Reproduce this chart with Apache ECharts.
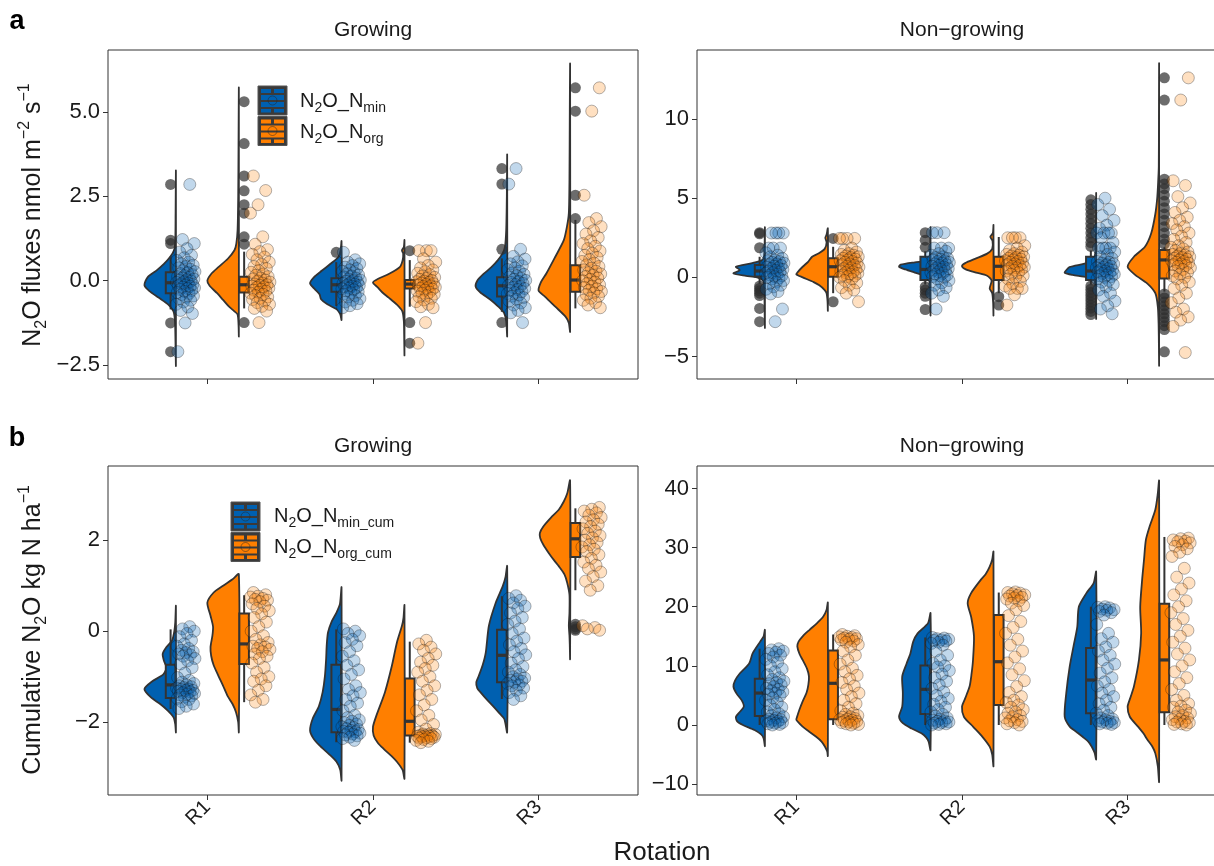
<!DOCTYPE html>
<html><head><meta charset="utf-8">
<script src="https://cdn.jsdelivr.net/npm/echarts@6/dist/echarts.min.js"></script>
<style>html,body{margin:0;padding:0;background:#fff}#c{width:1214px;height:866px}</style>
</head><body><div id="c"></div>
<script>
// ---------------- DATA ----------------
const categories = ['R1', 'R2', 'R3'];

// tick values per panel
const aGrowTicks = [-2.5, 0, 2.5, 5];
const aNonTicks = [-5, 0, 5, 10];
const bGrowTicks = [-2, 0, 2];
const bNonTicks = [-10, 0, 10, 20, 30, 40];

// ---- panel a, Growing ----
const aGrowMinPts = [
  [2.85, 1.22, 1.1, 0.95, 0.85, 0.75, 0.68, 0.6, 0.55, 0.5, 0.46, 0.42, 0.38, 0.34, 0.3, 0.27, 0.24, 0.21, 0.18, 0.15, 0.12, 0.1, 0.08, 0.05, 0.03, 0.01, -0.01, -0.03, -0.05, -0.07, -0.09, -0.11, -0.13, -0.15, -0.17, -0.19, -0.21, -0.23, -0.26, -0.29, -0.32, -0.35, -0.38, -0.41, -0.45, -0.49, -0.53, -0.58, -0.63, -0.7, -0.78, -0.88, -0.97, -1.25, -2.1],
  [0.84, 0.62, 0.55, 0.5, 0.45, 0.4, 0.36, 0.32, 0.28, 0.24, 0.2, 0.17, 0.14, 0.11, 0.08, 0.05, 0.02, 0.0, -0.02, -0.04, -0.06, -0.08, -0.1, -0.12, -0.14, -0.16, -0.18, -0.2, -0.22, -0.24, -0.27, -0.3, -0.33, -0.36, -0.4, -0.44, -0.48, -0.53, -0.58, -0.63, -0.68, -0.74, -0.8],
  [3.32, 2.86, 0.93, 0.72, 0.64, 0.56, 0.5, 0.44, 0.38, 0.33, 0.28, 0.23, 0.19, 0.15, 0.11, 0.07, 0.04, 0.01, -0.02, -0.05, -0.08, -0.11, -0.14, -0.17, -0.2, -0.23, -0.26, -0.29, -0.32, -0.35, -0.38, -0.42, -0.46, -0.5, -0.55, -0.6, -0.66, -0.72, -0.8, -0.88, -0.95, -1.24]
];
const aGrowOrgPts = [
  [3.1, 2.67, 2.25, 2.0, 1.3, 1.08, 0.92, 0.86, 0.78, 0.7, 0.62, 0.55, 0.48, 0.42, 0.36, 0.3, 0.25, 0.2, 0.16, 0.12, 0.08, 0.05, 0.02, -0.01, -0.04, -0.07, -0.1, -0.12, -0.14, -0.16, -0.18, -0.2, -0.22, -0.25, -0.28, -0.31, -0.34, -0.37, -0.4, -0.44, -0.48, -0.52, -0.56, -0.6, -0.65, -0.7, -0.76, -0.82, -0.9, -1.24],
  [0.89, 0.89, 0.89, 0.65, 0.55, 0.45, 0.38, 0.32, 0.27, 0.22, 0.18, 0.14, 0.1, 0.07, 0.04, 0.01, -0.01, -0.03, -0.05, -0.07, -0.09, -0.11, -0.13, -0.15, -0.17, -0.19, -0.21, -0.23, -0.25, -0.28, -0.31, -0.34, -0.37, -0.4, -0.44, -0.48, -0.52, -0.57, -0.62, -0.7, -0.77, -0.8, -1.24, -1.85],
  [5.71, 5.02, 2.53, 1.84, 1.72, 1.6, 1.48, 1.38, 1.28, 1.18, 1.1, 1.02, 0.95, 0.88, 0.81, 0.75, 0.69, 0.63, 0.57, 0.52, 0.47, 0.42, 0.37, 0.32, 0.28, 0.24, 0.2, 0.16, 0.12, 0.08, 0.04, 0.0, -0.04, -0.08, -0.12, -0.16, -0.2, -0.24, -0.28, -0.32, -0.36, -0.41, -0.46, -0.52, -0.58, -0.65, -0.72, -0.8]
];
const aGrowMinBox = [[-0.85, -0.37, -0.06, 0.25, 0.72], [-0.75, -0.33, -0.12, 0.07, 0.55], [-0.92, -0.47, -0.15, 0.1, 0.66]];
const aGrowOrgBox = [[-0.82, -0.35, -0.12, 0.12, 0.86], [-0.77, -0.23, -0.1, 0.02, 0.61], [-0.82, -0.33, 0.02, 0.46, 1.8]];
const aGrowMinOut = [[2.85, 1.2, 1.1, -1.25, -2.1], [0.84], [3.32, 2.86, 0.93, -1.24]];
const aGrowOrgOut = [[5.3, 4.06, 3.1, 2.66, 2.25, 2.0, 1.3, 1.08, -1.24], [0.89, -1.24, -1.85], [5.71, 5.02, 2.53, 1.84]];
const aGrowMinVio = [
  [[3.24,0],[2.0,0.01],[1.2,0.02],[0.9,0.06],[0.71,0.18],[0.5,0.38],[0.3,0.62],[0.1,0.9],[-0.13,1.0],[-0.3,0.85],[-0.5,0.55],[-0.7,0.25],[-0.9,0.08],[-1.2,0.03],[-2.0,0.01],[-2.51,0]],
  [[1.17,0],[0.9,0.03],[0.7,0.1],[0.5,0.35],[0.3,0.62],[0.1,0.88],[-0.08,1.0],[-0.25,0.85],[-0.4,0.7],[-0.55,0.65],[-0.7,0.45],[-0.85,0.15],[-1.0,0.04],[-1.16,0]],
  [[3.72,0],[2.5,0.01],[1.5,0.03],[1.0,0.07],[0.8,0.15],[0.6,0.3],[0.4,0.5],[0.2,0.75],[0.0,0.95],[-0.18,1.0],[-0.35,0.85],[-0.55,0.55],[-0.75,0.3],[-0.95,0.1],[-1.2,0.03],[-1.64,0]]
];
const aGrowOrgVio = [
  [[5.69,0],[4.0,0.01],[2.5,0.02],[1.5,0.04],[1.1,0.08],[0.9,0.14],[0.65,0.35],[0.41,0.64],[0.2,0.88],[0.0,1.0],[-0.15,0.93],[-0.37,0.69],[-0.57,0.5],[-0.77,0.31],[-0.9,0.15],[-1.0,0.04],[-1.3,0.01],[-1.64,0]],
  [[1.2,0],[1.0,0.02],[0.9,0.08],[0.8,0.04],[0.6,0.06],[0.4,0.15],[0.2,0.5],[0.05,0.85],[-0.05,1.0],[-0.2,0.85],[-0.35,0.7],[-0.5,0.5],[-0.7,0.25],[-0.9,0.07],[-1.2,0.02],[-1.6,0.01],[-2.2,0]],
  [[6.4,0],[5.0,0.01],[3.0,0.02],[2.0,0.04],[1.6,0.1],[1.2,0.2],[0.71,0.47],[0.22,0.75],[-0.05,0.93],[-0.3,1.0],[-0.47,0.8],[-0.77,0.47],[-1.07,0.14],[-1.25,0.04],[-1.51,0]]
];

// ---- panel a, Non-growing ----
const aNonMinPts = [
  [2.8, 2.8, 2.8, 2.8, 1.85, 1.85, 1.85, 1.55, 1.4, 1.3, 1.2, 1.1, 1.05, 1.0, 0.95, 0.9, 0.85, 0.8, 0.75, 0.7, 0.65, 0.6, 0.55, 0.5, 0.45, 0.4, 0.35, 0.3, 0.25, 0.2, 0.15, 0.1, 0.05, 0.0, -0.05, -0.1, -0.2, -0.3, -0.4, -0.5, -0.6, -0.75, -0.9, -1.05, -2.0, -2.8],
  [2.82, 2.82, 2.82, 1.85, 1.85, 1.85, 1.65, 1.5, 1.4, 1.3, 1.25, 1.2, 1.15, 1.1, 1.05, 1.0, 0.95, 0.9, 0.85, 0.8, 0.75, 0.7, 0.65, 0.6, 0.55, 0.5, 0.45, 0.4, 0.35, 0.3, 0.25, 0.2, 0.15, 0.1, 0.05, 0.0, -0.1, -0.2, -0.35, -0.5, -0.65, -0.8, -1.0, -1.2, -2.0],
  [5.0, 4.6, 4.3, 3.9, 3.6, 3.3, 3.1, 2.8, 2.8, 2.8, 2.8, 2.5, 2.2, 1.85, 1.85, 1.85, 1.85, 1.6, 1.45, 1.3, 1.2, 1.1, 1.0, 0.95, 0.9, 0.85, 0.8, 0.75, 0.7, 0.65, 0.6, 0.55, 0.5, 0.45, 0.4, 0.35, 0.3, 0.25, 0.2, 0.15, 0.1, 0.05, 0.0, -0.1, -0.2, -0.3, -0.45, -0.6, -0.8, -1.0, -1.2, -1.5, -1.8, -2.0, -2.3]
];
const aNonOrgPts = [
  [2.46, 2.46, 2.46, 2.46, 1.85, 1.7, 1.6, 1.5, 1.45, 1.4, 1.35, 1.3, 1.25, 1.2, 1.15, 1.1, 1.05, 1.0, 0.95, 0.9, 0.85, 0.8, 0.75, 0.7, 0.65, 0.6, 0.55, 0.5, 0.45, 0.4, 0.35, 0.3, 0.25, 0.2, 0.15, 0.1, 0.05, 0.0, -0.1, -0.2, -0.35, -0.5, -0.65, -0.8, -1.0, -1.54],
  [2.5, 2.5, 2.5, 2.5, 2.0, 1.85, 1.7, 1.6, 1.5, 1.45, 1.4, 1.35, 1.3, 1.25, 1.2, 1.15, 1.1, 1.05, 1.0, 0.95, 0.9, 0.85, 0.8, 0.75, 0.7, 0.65, 0.6, 0.55, 0.5, 0.45, 0.4, 0.3, 0.2, 0.1, 0.0, -0.1, -0.25, -0.4, -0.55, -0.7, -0.7, -0.7, -1.1, -1.75],
  [12.6, 11.2, 6.1, 5.8, 5.1, 4.7, 4.4, 4.1, 3.8, 3.6, 3.4, 3.2, 3.0, 2.8, 2.6, 2.4, 2.2, 2.0, 1.9, 1.8, 1.7, 1.6, 1.5, 1.45, 1.4, 1.35, 1.3, 1.25, 1.2, 1.15, 1.1, 1.05, 1.0, 0.95, 0.9, 0.85, 0.8, 0.75, 0.7, 0.6, 0.5, 0.4, 0.3, 0.2, 0.1, 0.0, -0.1, -0.3, -0.5, -0.7, -1.0, -1.3, -1.6, -2.0, -2.2, -2.5, -2.7, -3.1, -4.75]
];
const aNonMinBox = [[-0.4, 0.05, 0.4, 0.78, 1.3], [-0.45, -0.17, 0.5, 1.3, 1.65], [-0.45, -0.17, 0.4, 1.3, 1.7]];
const aNonOrgBox = [[-1.0, 0.04, 0.67, 1.2, 1.93], [-1.0, -0.17, 0.7, 1.3, 2.55], [-0.9, -0.07, 1.1, 1.72, 1.9]];
const aNonMinOut = [
  [2.82, 2.75, 1.87, -0.55, -0.7, -0.85, -1.0, -1.15, -1.96, -2.8],
  [2.82, 2.35, 1.9, -0.6, -0.8, -1.0, -1.2, -2.03],
  [4.9, 4.6, 4.3, 4.0, 3.7, 3.4, 3.1, 2.8, 2.5, 2.2, 1.95, -0.55, -0.75, -0.95, -1.15, -1.35, -1.55, -1.75, -1.95, -2.15, -2.35]
];
const aNonOrgOut = [
  [2.46, -1.54],
  [-1.22, -1.75],
  [12.6, 11.2, 6.2, 5.9, 5.6, 5.2, 4.8, 4.4, 4.0, 3.6, 3.2, 2.8, 2.4, 2.1, -1.05, -1.3, -1.55, -1.8, -2.05, -2.3, -2.55, -2.8, -3.05, -3.3, -4.7]
];
const aNonMinVio = [
  [[3.15,0],[2.0,0.01],[1.3,0.03],[1.1,0.08],[0.9,0.4],[0.67,0.92],[0.46,0.8],[0.25,1.0],[0.1,0.6],[0.0,0.25],[-0.2,0.06],[-0.6,0.02],[-2.0,0.01],[-3.17,0]],
  [[3.15,0],[2.0,0.01],[1.3,0.03],[1.05,0.1],[0.95,0.5],[0.8,0.95],[0.67,1.0],[0.5,0.8],[0.3,0.5],[0.1,0.2],[-0.1,0.06],[-0.5,0.02],[-1.5,0.01],[-2.39,0]],
  [[5.3,0],[3.0,0.01],[1.5,0.03],[1.05,0.08],[0.85,0.4],[0.65,0.85],[0.45,0.95],[0.29,1.0],[0.15,0.75],[0.0,0.3],[-0.2,0.06],[-0.6,0.02],[-1.5,0.01],[-2.6,0]]
];
const aNonOrgVio = [
  [[3.09,0],[2.7,0.04],[2.5,0.08],[2.2,0.04],[1.8,0.1],[1.5,0.3],[1.3,0.5],[1.0,0.62],[0.67,0.8],[0.35,0.95],[0.19,1.0],[0.0,0.8],[-0.3,0.45],[-0.5,0.27],[-0.8,0.1],[-1.0,0.04],[-1.5,0.01],[-2.1,0]],
  [[3.3,0],[2.8,0.02],[2.56,0.1],[2.3,0.03],[1.8,0.04],[1.5,0.2],[1.2,0.55],[0.9,0.9],[0.71,1.0],[0.5,0.88],[0.3,0.55],[0.1,0.2],[-0.2,0.06],[-0.7,0.12],[-1.0,0.04],[-1.6,0.01],[-2.39,0]],
  [[13.45,0],[10,0.005],[7,0.01],[6,0.03],[5,0.06],[4,0.12],[2.78,0.25],[1.93,0.45],[1.3,0.8],[0.67,1.0],[0.14,0.75],[-0.38,0.38],[-1.0,0.12],[-1.86,0.04],[-3,0.015],[-4.5,0.005],[-5.55,0]]
];

// ---- panel b, Growing ----
const bGrowMinPts = [
  [0.1, 0.05, 0.0, -0.05, -0.12, -0.2, -0.28, -0.33, -0.38, -0.42, -0.45, -0.47, -0.5, -0.52, -0.55, -0.6, -0.65, -0.72, -0.8, -0.92, -1.02, -1.08, -1.12, -1.15, -1.18, -1.2, -1.22, -1.24, -1.25, -1.27, -1.28, -1.3, -1.3, -1.32, -1.33, -1.35, -1.37, -1.38, -1.4, -1.42, -1.45, -1.48, -1.5, -1.55, -1.6, -1.65, -1.7],
  [0.05, 0.0, -0.05, -0.1, -0.18, -0.25, -0.32, -0.45, -0.55, -0.65, -0.75, -0.85, -0.95, -1.05, -1.2, -1.28, -1.35, -1.42, -1.5, -1.58, -1.65, -1.75, -1.85, -1.9, -1.95, -1.98, -2.01, -2.04, -2.07, -2.1, -2.12, -2.14, -2.16, -2.18, -2.2, -2.21, -2.22, -2.24, -2.26, -2.28, -2.3, -2.33, -2.36, -2.4],
  [0.78, 0.72, 0.68, 0.62, 0.55, 0.5, 0.4, 0.3, 0.22, 0.15, 0.05, -0.05, -0.15, -0.22, -0.3, -0.38, -0.45, -0.52, -0.6, -0.7, -0.78, -0.85, -0.9, -0.95, -1.0, -1.03, -1.05, -1.08, -1.1, -1.12, -1.15, -1.18, -1.2, -1.25, -1.3, -1.35, -1.42, -1.5]
];
const bGrowOrgPts = [
  [0.85, 0.8, 0.77, 0.75, 0.72, 0.7, 0.68, 0.65, 0.6, 0.55, 0.5, 0.45, 0.38, 0.3, 0.2, 0.1, 0.0, -0.1, -0.18, -0.25, -0.3, -0.33, -0.35, -0.38, -0.4, -0.45, -0.5, -0.55, -0.6, -0.7, -0.8, -0.9, -1.0, -1.05, -1.1, -1.2, -1.3, -1.4, -1.5, -1.56],
  [-0.2, -0.28, -0.35, -0.42, -0.5, -0.6, -0.68, -0.75, -0.82, -0.9, -1.0, -1.1, -1.2, -1.3, -1.4, -1.5, -1.62, -1.75, -1.85, -1.95, -2.05, -2.15, -2.22, -2.25, -2.26, -2.27, -2.28, -2.29, -2.3, -2.3, -2.31, -2.31, -2.32, -2.33, -2.34, -2.35, -2.36, -2.38, -2.4, -2.42, -2.45],
  [2.72, 2.68, 2.64, 2.6, 2.55, 2.5, 2.45, 2.4, 2.35, 2.3, 2.25, 2.2, 2.15, 2.1, 2.05, 2.0, 1.95, 1.9, 1.85, 1.8, 1.75, 1.68, 1.6, 1.52, 1.45, 1.38, 1.3, 1.2, 1.1, 1.0, 0.9, 0.12, 0.08, 0.05, 0.02]
];
const bGrowMinBox = [[-1.71, -1.47, -1.18, -0.74, 0.04], [-2.44, -2.22, -1.72, -0.74, 0.04], [-1.49, -1.12, -0.53, 0.03, 0.77]];
const bGrowOrgBox = [[-1.56, -0.72, -0.28, 0.39, 0.79], [-2.45, -2.29, -1.98, -1.04, -0.23], [0.9, 1.63, 2.03, 2.38, 2.7]];
const bGrowMinOut = [[], [], []];
const bGrowOrgOut = [[], [], [0.15, 0.1, 0.05, 0.02]];
const bGrowMinVio = [
  [[0.55,0],[0.2,0.02],[0.0,0.05],[-0.2,0.12],[-0.35,0.3],[-0.5,0.42],[-0.65,0.38],[-0.8,0.3],[-0.95,0.4],[-1.1,0.75],[-1.27,1.0],[-1.45,0.8],[-1.6,0.5],[-1.75,0.25],[-1.9,0.07],[-2.05,0.02],[-2.22,0]],
  [[0.96,0],[0.6,0.05],[0.41,0.16],[0.2,0.32],[-0.03,0.43],[-0.3,0.47],[-0.61,0.49],[-1.0,0.53],[-1.34,0.6],[-1.65,0.72],[-1.93,0.92],[-2.18,1.0],[-2.35,0.9],[-2.51,0.7],[-2.7,0.4],[-2.87,0.16],[-3.05,0.04],[-3.28,0]],
  [[1.43,0],[1.2,0.05],[0.99,0.14],[0.63,0.36],[0.12,0.58],[-0.47,0.68],[-0.75,0.78],[-0.98,0.9],[-1.12,0.98],[-1.25,0.95],[-1.34,0.85],[-1.5,0.65],[-1.63,0.47],[-1.8,0.25],[-1.93,0.09],[-2.22,0]]
];
const bGrowOrgVio = [
  [[1.25,0],[1.14,0.2],[1.0,0.5],[0.85,0.8],[0.63,1.0],[0.34,0.9],[0.1,0.82],[-0.1,0.84],[-0.35,0.9],[-0.54,0.88],[-0.75,0.8],[-0.98,0.65],[-1.2,0.5],[-1.42,0.36],[-1.6,0.2],[-1.78,0.09],[-2.0,0.02],[-2.22,0]],
  [[0.57,0],[0.3,0.03],[0.12,0.08],[-0.25,0.24],[-0.76,0.4],[-1.34,0.62],[-1.85,0.89],[-2.1,1.0],[-2.29,0.98],[-2.45,0.85],[-2.58,0.67],[-2.75,0.4],[-2.87,0.24],[-3.05,0.06],[-3.24,0]],
  [[3.31,0],[3.03,0.09],[2.85,0.2],[2.67,0.36],[2.5,0.6],[2.3,0.85],[2.16,0.96],[2.05,0.95],[1.9,0.85],[1.72,0.68],[1.55,0.5],[1.43,0.36],[1.25,0.18],[1.06,0.09],[0.8,0.02],[0.4,0.02],[0.12,0.04],[-0.1,0.02],[-0.3,0.01],[-0.61,0]]
];

// ---- panel b, Non-growing ----
const bNonMinPts = [
  [12.9, 12.7, 12.5, 12.3, 12.1, 11.8, 11.5, 11.1, 10.6, 10.0, 9.5, 9.0, 8.5, 8.0, 7.7, 7.4, 7.2, 7.0, 6.8, 6.5, 6.2, 6.0, 5.8, 5.6, 5.4, 5.2, 5.0, 4.6, 4.2, 3.8, 3.4, 3.0, 2.6, 2.2, 1.9, 1.6, 1.4, 1.2, 1.0, 0.9, 0.8, 0.7, 0.6, 0.5, 0.4, 0.3, 0.2, 0.1, 0.0],
  [14.8, 14.7, 14.6, 14.5, 14.4, 14.3, 14.2, 14.0, 13.8, 13.5, 12.5, 11.8, 11.0, 10.4, 10.0, 9.8, 9.2, 8.6, 8.0, 7.4, 6.8, 6.2, 5.6, 5.0, 4.5, 4.0, 3.5, 3.0, 2.6, 2.2, 1.8, 1.5, 1.2, 1.0, 0.8, 0.7, 0.6, 0.5, 0.4, 0.3, 0.2, 0.1, 0.0],
  [20.0, 19.9, 19.8, 19.6, 19.5, 19.4, 19.2, 19.0, 18.6, 17.0, 15.5, 14.6, 14.0, 13.2, 12.5, 11.8, 11.0, 10.3, 9.6, 8.8, 8.0, 7.3, 6.6, 6.0, 5.4, 4.8, 4.2, 3.6, 3.0, 2.5, 2.0, 1.6, 1.2, 1.0, 0.9, 0.7, 0.6, 0.5, 0.4, 0.3, 0.2, 0.1]
];
const bNonOrgPts = [
  [15.3, 15.1, 15.0, 14.9, 14.8, 14.7, 14.6, 14.5, 14.4, 14.2, 14.0, 13.6, 13.2, 12.5, 11.8, 11.0, 10.3, 9.6, 9.0, 8.4, 7.8, 7.2, 6.6, 6.0, 5.4, 4.8, 4.2, 3.6, 3.0, 2.4, 2.0, 1.8, 1.6, 1.4, 1.3, 1.1, 1.0, 0.9, 0.8, 0.7, 0.6, 0.5, 0.4, 0.3, 0.2, 0.1, 0.0],
  [22.5, 22.4, 22.3, 22.2, 22.0, 21.9, 21.8, 21.6, 21.5, 21.3, 21.0, 20.6, 20.2, 19.5, 18.5, 17.5, 16.5, 15.5, 14.5, 13.5, 12.5, 11.5, 10.5, 9.5, 8.5, 7.5, 6.5, 5.5, 4.8, 4.2, 3.8, 3.4, 3.0, 2.6, 2.2, 2.0, 1.6, 1.4, 1.2, 0.9, 0.7, 0.6, 0.4, 0.2, 0.0],
  [31.6, 31.5, 31.3, 31.1, 31.0, 30.8, 30.5, 30.2, 29.8, 29.2, 28.5, 26.5, 25.0, 24.0, 23.0, 22.0, 21.0, 20.0, 19.0, 18.0, 17.0, 16.0, 15.0, 14.0, 13.0, 12.0, 11.0, 10.0, 9.0, 8.0, 7.0, 6.0, 5.0, 4.2, 3.6, 3.2, 3.0, 2.5, 2.2, 2.0, 1.6, 1.4, 1.2, 1.0, 0.9, 0.6, 0.5, 0.4, 0.2, 0.1, 0.0]
];
const bNonMinBox = [[0.0, 1.5, 5.4, 7.8, 12.9], [0.0, 1.86, 6.03, 10.04, 14.8], [0.0, 1.97, 7.6, 13.0, 20.0]];
const bNonOrgBox = [[0.0, 0.96, 7.05, 12.58, 15.3], [0.0, 3.38, 10.7, 18.6, 22.4], [0.0, 2.14, 11.0, 20.5, 31.8]];
const bNonMinOut = [[], [], []];
const bNonOrgOut = [[], [], []];
const bNonMinVio = [
  [[16.07,0],[15,0.04],[14.1,0.15],[12.1,0.39],[10.4,0.5],[8.7,0.8],[7.5,0.95],[6.5,1.0],[5.3,0.9],[4.2,0.74],[3.1,0.67],[2.2,0.8],[1.4,0.92],[0.6,0.88],[0.0,0.7],[-0.85,0.33],[-1.6,0.12],[-2.26,0.04],[-3.55,0]],
  [[18.9,0],[17.2,0.08],[15.5,0.41],[14.1,0.55],[12.1,0.64],[10.4,0.76],[8.2,0.9],[5.4,0.88],[3.1,0.9],[1.4,1.0],[0.3,0.88],[-0.6,0.6],[-1.41,0.29],[-2.1,0.14],[-2.82,0.06],[-4.23,0]],
  [[25.9,0],[24.0,0.08],[22.3,0.31],[20.0,0.55],[16.6,0.6],[13.3,0.72],[9.9,0.84],[5.4,0.95],[1.4,1.0],[-0.28,0.84],[-1.2,0.62],[-2.0,0.43],[-2.8,0.25],[-3.67,0.14],[-4.7,0.05],[-5.8,0]]
];
const bNonOrgVio = [
  [[20.7,0],[19.5,0.04],[18.3,0.15],[17.2,0.35],[16.1,0.58],[15,0.8],[14.1,0.93],[13.3,0.97],[12,0.9],[11,0.8],[9.5,0.66],[8.2,0.6],[6.8,0.62],[5.4,0.68],[4,0.8],[2.5,0.91],[1.5,0.97],[0.85,1.0],[-0.28,0.8],[-1.1,0.6],[-2.0,0.37],[-2.8,0.2],[-3.67,0.09],[-4.5,0.02],[-5.25,0]],
  [[29.3,0],[28,0.04],[26.8,0.12],[25.5,0.25],[24.5,0.41],[22.3,0.71],[20.6,0.82],[18.3,0.71],[15,0.62],[11,0.65],[8.5,0.7],[6.5,0.76],[4.5,0.9],[3.1,1.0],[1.4,0.94],[-0.28,0.65],[-2.0,0.35],[-3.67,0.12],[-5,0.04],[-6.94,0]],
  [[41.3,0],[39.2,0.04],[36.4,0.12],[33.6,0.3],[31.3,0.42],[27.9,0.48],[24.5,0.54],[20,0.6],[15.5,0.57],[11,0.64],[6.5,0.8],[4.5,0.92],[3.1,1.0],[1.4,0.93],[-0.28,0.67],[-1.4,0.5],[-2.5,0.37],[-3.6,0.22],[-4.8,0.12],[-7,0.04],[-9.59,0]]
];

// ---------------- STYLE / LAYOUT ----------------
const FONT = '"Liberation Sans", Arial, Helvetica, sans-serif';
const BLUE = '#0060b0', ORANGE = '#ff7f00', DARK = '#333333', TXT = '#1a1a1a';
const VIO_OFF = 0.19, VIO_W = 0.19, BOX_OFF = 0.222, BOX_W = 0.058;
const MIN_JIT = [-0.19, -0.075], ORG_JIT = [0.26, 0.38];

const panels = [
  {grid: {left: 108, top: 50, width: 530, height: 329}, yr: [-2.91, 6.83], ticks: aGrowTicks, dec: 1, showX: false,
   minPts: aGrowMinPts, orgPts: aGrowOrgPts, minBox: aGrowMinBox, orgBox: aGrowOrgBox, minOut: aGrowMinOut, orgOut: aGrowOrgOut, minVio: aGrowMinVio, orgVio: aGrowOrgVio},
  {grid: {left: 697, top: 50, width: 530, height: 329}, yr: [-6.42, 14.36], ticks: aNonTicks, dec: 0, showX: false,
   minPts: aNonMinPts, orgPts: aNonOrgPts, minBox: aNonMinBox, orgBox: aNonOrgBox, minOut: aNonMinOut, orgOut: aNonOrgOut, minVio: aNonMinVio, orgVio: aNonOrgVio},
  {grid: {left: 108, top: 466, width: 530, height: 329}, yr: [-3.6, 3.63], ticks: bGrowTicks, dec: 0, showX: true,
   minPts: bGrowMinPts, orgPts: bGrowOrgPts, minBox: bGrowMinBox, orgBox: bGrowOrgBox, minOut: bGrowMinOut, orgOut: bGrowOrgOut, minVio: bGrowMinVio, orgVio: bGrowOrgVio},
  {grid: {left: 697, top: 466, width: 530, height: 329}, yr: [-11.84, 43.8], ticks: bNonTicks, dec: 0, showX: true,
   minPts: bNonMinPts, orgPts: bNonOrgPts, minBox: bNonMinBox, orgBox: bNonOrgBox, minOut: bNonMinOut, orgOut: bNonOrgOut, minVio: bNonMinVio, orgVio: bNonOrgVio}
];

const frac = t => t - Math.floor(t);

function violinSeries(gi, vios, off, color) {
  return {
    type: 'custom', xAxisIndex: gi, yAxisIndex: gi, z: 2, silent: true, clip: false,
    data: vios.map((v, i) => [i + 1, 0]),
    renderItem(params, api) {
      const c = api.value(0);
      const prof = vios[params.dataIndex];
      const lx = c + off;
      const pts = prof.map(([y, w]) => api.coord([lx - w * VIO_W, y]));
      return {type: 'polygon', shape: {points: pts, smooth: 0.25},
        style: {fill: color, stroke: DARK, lineWidth: 1.8, lineJoin: 'round'}};
    }
  };
}

function boxSeries(gi, boxes, off, color) {
  return {
    type: 'custom', xAxisIndex: gi, yAxisIndex: gi, z: 3, silent: true, clip: false,
    data: boxes.map((b, i) => [i + 1, 0]),
    renderItem(params, api) {
      const c = api.value(0);
      const [lo, q1, md, q3, hi] = boxes[params.dataIndex];
      const x = c + off;
      const pLo = api.coord([x, lo]), pHi = api.coord([x, hi]);
      const pQ1 = api.coord([x, q1]), pQ3 = api.coord([x, q3]);
      const a = api.coord([x - BOX_W / 2, q3]), b = api.coord([x + BOX_W / 2, q1]);
      const mL = api.coord([x - BOX_W / 2, md]), mR = api.coord([x + BOX_W / 2, md]);
      const ls = {stroke: DARK, lineWidth: 2};
      return {type: 'group', children: [
        {type: 'line', shape: {x1: pHi[0], y1: pHi[1], x2: pQ3[0], y2: pQ3[1]}, style: ls},
        {type: 'line', shape: {x1: pQ1[0], y1: pQ1[1], x2: pLo[0], y2: pLo[1]}, style: ls},
        {type: 'rect', shape: {x: a[0], y: a[1], width: b[0] - a[0], height: b[1] - a[1]}, style: {fill: color, stroke: DARK, lineWidth: 2}},
        {type: 'line', shape: {x1: mL[0], y1: mL[1], x2: mR[0], y2: mR[1]}, style: {stroke: DARK, lineWidth: 3.2}}
      ]};
    }
  };
}

function outSeries(gi, outs, off) {
  const data = [];
  outs.forEach((arr, ci) => arr.forEach(y => data.push([ci + 1 + off, y])));
  return {type: 'scatter', xAxisIndex: gi, yAxisIndex: gi, z: 4, silent: true, symbolSize: 11,
    itemStyle: {color: 'rgba(45,45,45,0.88)', borderWidth: 0}, data};
}

function ptSeries(gi, pts, jit, fill, seed) {
  const data = [];
  pts.forEach((arr, ci) => arr.forEach((y, i) => {
    const t = frac((i + 1) * 0.6180339887 + ci * 0.37 + seed);
    data.push([ci + 1 + jit[0] + t * (jit[1] - jit[0]), y]);
  }));
  return {type: 'scatter', xAxisIndex: gi, yAxisIndex: gi, z: 5, silent: true, symbolSize: 12,
    itemStyle: {color: fill, borderColor: 'rgba(20,20,20,0.4)', borderWidth: 1}, data};
}

const fmt = (v, dec) => (v < 0 ? '\u2212' : '') + Math.abs(v).toFixed(dec);

const grids = [], xAxes = [], yAxes = [], series = [];
panels.forEach((p, gi) => {
  grids.push(Object.assign({show: true, borderColor: DARK, borderWidth: 1, backgroundColor: 'transparent',
    containLabel: false, outerBoundsMode: 'none'}, p.grid));
  xAxes.push({type: 'value', gridIndex: gi, min: 0.4, max: 3.6, position: 'bottom',
    splitLine: {show: false}, axisLine: {show: false, onZero: false},
    axisTick: {show: true, customValues: [1, 2, 3], length: 5, lineStyle: {color: DARK, width: 1}},
    axisLabel: {show: p.showX, customValues: [1, 2, 3], rotate: 45, margin: 9, fontSize: 20, color: TXT, fontFamily: FONT,
      formatter: v => categories[Math.round(v) - 1] || ''}});
  yAxes.push({type: 'value', gridIndex: gi, min: p.yr[0], max: p.yr[1], position: 'left',
    splitLine: {show: false}, axisLine: {show: false, onZero: false},
    axisTick: {show: true, customValues: p.ticks, length: 5, lineStyle: {color: DARK, width: 1}},
    axisLabel: {customValues: p.ticks, margin: 8, fontSize: 22, color: TXT, fontFamily: FONT,
      formatter: v => fmt(v, p.dec)}});
  series.push(violinSeries(gi, p.minVio, -VIO_OFF, BLUE));
  series.push(violinSeries(gi, p.orgVio, VIO_OFF, ORANGE));
  series.push(boxSeries(gi, p.minBox, -BOX_OFF, BLUE));
  series.push(boxSeries(gi, p.orgBox, BOX_OFF, ORANGE));
  series.push(outSeries(gi, p.minOut, -BOX_OFF));
  series.push(outSeries(gi, p.orgOut, BOX_OFF));
  series.push(ptSeries(gi, p.minPts, MIN_JIT, 'rgba(0,96,176,0.3)', 0.11));
  series.push(ptSeries(gi, p.orgPts, ORG_JIT, 'rgba(255,127,0,0.3)', 0.53));
});

// ---------------- GRAPHIC TEXT / LEGEND ----------------
function txt(x, y, text, size, opts) {
  return {type: 'text', x, y, silent: true,
    style: Object.assign({text, fontSize: size, fontFamily: FONT, fill: TXT, align: 'center', verticalAlign: 'middle'}, opts || {})};
}
function rich(main, sub) {
  return {
    n: {fontSize: main, lineHeight: main + 8, fontFamily: FONT, fill: TXT},
    s: {fontSize: sub, lineHeight: sub, fontFamily: FONT, fill: TXT, verticalAlign: 'bottom'},
    p: {fontSize: sub, lineHeight: sub, fontFamily: FONT, fill: TXT, verticalAlign: 'top'}
  };
}
function key(x0, y0, color) {
  const S = 29;
  const r = (x, y, w, h) => ({type: 'rect', shape: {x: x0 + x, y: y0 + y, width: w, height: h}, style: {fill: color}});
  return {type: 'group', silent: true, children: [
    {type: 'rect', shape: {x: x0, y: y0, width: S, height: S}, style: {fill: '#3a3a3a', stroke: '#555', lineWidth: 1}},
    r(3, 3, 10, 4), r(16, 3, 10, 4),
    r(3, 9, 23, 5), r(3, 16, 23, 5),
    r(3, 23, 10, 3.5), r(16, 23, 10, 3.5),
    {type: 'circle', shape: {cx: x0 + 14.5, cy: y0 + 14.5, r: 4.5}, style: {fill: 'none', stroke: 'rgba(40,40,40,0.5)', lineWidth: 1}}
  ]};
}

const rot = (el) => Object.assign(el, {rotation: Math.PI / 2});
const graphics = [
  txt(17, 22, 'a', 27, {fontWeight: 'bold', fill: '#000'}),
  txt(17, 439, 'b', 27, {fontWeight: 'bold', fill: '#000'}),
  txt(373, 30, 'Growing', 21),
  txt(962, 30, 'Non\u2212growing', 21),
  txt(373, 446, 'Growing', 21),
  txt(962, 446, 'Non\u2212growing', 21),
  txt(662, 853, 'Rotation', 26),
  rot(txt(33, 215, '{n|N}{s|2}{n|O fluxes nmol m}{p|\u22122}{n| s}{p|\u22121}', 25, {rich: rich(25, 16)})),
  rot(txt(33, 630, '{n|Cumulative N}{s|2}{n|O kg N ha}{p|\u22121}', 25, {rich: rich(25, 16)})),
  key(258, 86, BLUE), key(258, 116.5, ORANGE),
  txt(300, 101, '{n|N}{s|2}{n|O_N}{s|min}', 20, {align: 'left', rich: rich(20, 14)}),
  txt(300, 132, '{n|N}{s|2}{n|O_N}{s|org}', 20, {align: 'left', rich: rich(20, 14)}),
  key(231, 502, BLUE), key(231, 532.5, ORANGE),
  txt(274, 516, '{n|N}{s|2}{n|O_N}{s|min_cum}', 20, {align: 'left', rich: rich(20, 14)}),
  txt(274, 547, '{n|N}{s|2}{n|O_N}{s|org_cum}', 20, {align: 'left', rich: rich(20, 14)})
];

const chart = echarts.init(document.getElementById('c'), null, {renderer: 'canvas'});
chart.setOption({
  animation: false,
  backgroundColor: '#ffffff',
  grid: grids, xAxis: xAxes, yAxis: yAxes, series,
  graphic: graphics
});
</script></body></html>
